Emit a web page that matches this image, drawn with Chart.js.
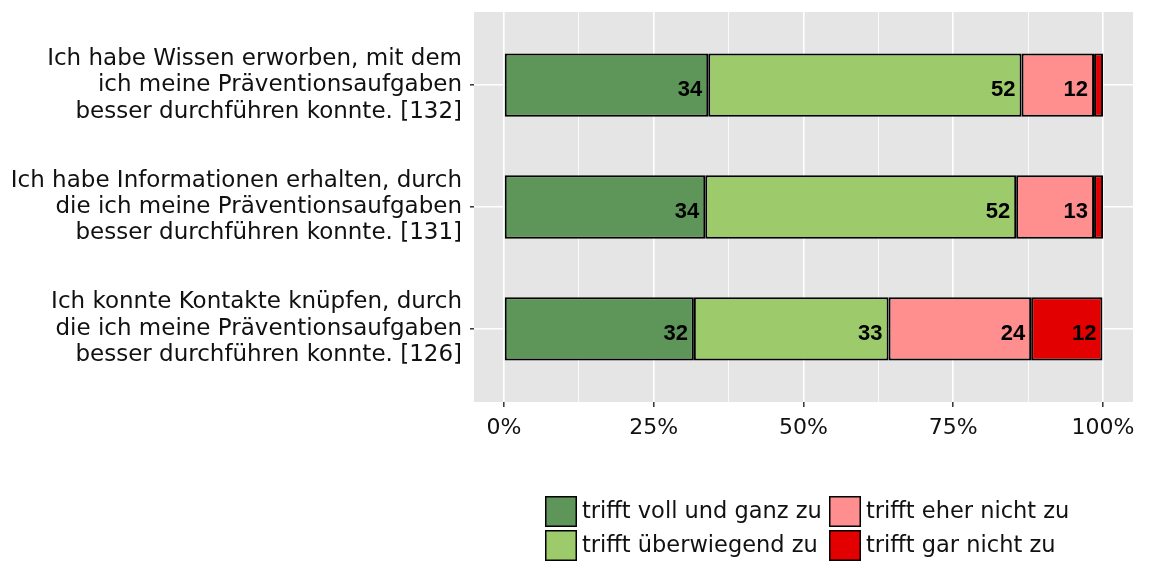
<!DOCTYPE html>
<html>
<head>
<meta charset="utf-8">
<script src="https://cdn.jsdelivr.net/npm/chart.js@4"></script>
<style>
  html, body { margin: 0; padding: 0; background: #fff; }
  #wrap { width: 1150px; height: 562px; }
</style>
</head>
<body>
<div id="wrap"><canvas id="chart" width="1150" height="562"></canvas></div>
<script>
// Questions (one line per array entry), top to bottom
const questions = [
    ["Ich habe Wissen erworben, mit dem", "ich meine Präventionsaufgaben", "besser durchführen konnte. [132]"],
    ["Ich habe Informationen erhalten, durch", "die ich meine Präventionsaufgaben", "besser durchführen konnte. [131]"],
    ["Ich konnte Kontakte knüpfen, durch", "die ich meine Präventionsaufgaben", "besser durchführen konnte. [126]"]
];

const answerLabels = ['trifft voll und ganz zu', 'trifft überwiegend zu', 'trifft eher nicht zu', 'trifft gar nicht zu'];
const answerColors = ['#5E9659', '#9DCB6C', '#FF8E8E', '#E20000'];

// Share of answers in percent, per question
const vollUndGanz = [34.1, 33.6, 31.7];
const ueberwiegend = [52.3, 51.9, 32.5];
const eherNicht = [12.1, 13.0, 23.8];
const garNicht = [1.5, 1.5, 11.9];

const xTicks = [0, 12.5, 25, 37.5, 50, 62.5, 75, 87.5, 100];

const textFont = "'DejaVu Sans', sans-serif";
const textColor = '#111';

const series = [vollUndGanz, ueberwiegend, eherNicht, garNicht];

const datasets = series.map((values, s) => ({
    label: answerLabels[s],
    data: values.map((v, i) => ({ x: v, y: i + 1 })),
    backgroundColor: answerColors[s],
    borderColor: '#000',
    borderWidth: 2,
    borderSkipped: false,
    barPercentage: 0.52,
    categoryPercentage: 1
}));

// gray panel behind the grid
const panelBackground = {
    id: 'panelBackground',
    beforeDraw(chart) {
        const { ctx, chartArea } = chart;
        ctx.save();
        ctx.fillStyle = '#E5E5E5';
        ctx.fillRect(chartArea.left, chartArea.top, chartArea.right - chartArea.left, chartArea.bottom - chartArea.top);
        ctx.restore();
    }
};

// rounded percentages at the right end of each segment
const segmentLabels = {
    id: 'segmentLabels',
    afterDatasetsDraw(chart) {
        const ctx = chart.ctx;
        ctx.save();
        ctx.font = "bold 22px 'Liberation Sans Narrow', 'Liberation Sans', sans-serif";
        ctx.fillStyle = '#000';
        ctx.textAlign = 'right';
        ctx.textBaseline = 'middle';
        chart.data.datasets.forEach((ds, d) => {
            const meta = chart.getDatasetMeta(d);
            meta.data.forEach((bar, i) => {
                const v = ds.data[i].x;
                if (v < 5) return;
                ctx.fillText(Math.round(v), bar.x - 6, bar.y + 5);
            });
        });
        ctx.restore();
    }
};

// two column legend, filled column by column
const boxLegend = {
    id: 'boxLegend',
    afterDraw(chart) {
        const ctx = chart.ctx;
        const colX = [545, 829];
        const rowY = [496, 530];
        ctx.save();
        ctx.font = '22.5px ' + textFont;
        ctx.textBaseline = 'middle';
        ctx.textAlign = 'left';
        chart.data.datasets.forEach((ds, d) => {
            const x = colX[Math.floor(d / 2)];
            const y = rowY[d % 2];
            ctx.fillStyle = ds.backgroundColor;
            ctx.fillRect(x, y, 32, 31);
            ctx.strokeStyle = '#000';
            ctx.lineWidth = 1.5;
            ctx.strokeRect(x + 0.75, y + 0.75, 30.5, 29.5);
            ctx.fillStyle = textColor;
            ctx.fillText(ds.label, x + 37, y + 16);
        });
        ctx.restore();
    }
};

const isMajor = v => v % 25 === 0;

new Chart(document.getElementById('chart'), {
    type: 'bar',
    data: { datasets },
    options: {
        indexAxis: 'y',
        responsive: false,
        animation: false,
        devicePixelRatio: 1,
        layout: { padding: { top: 12, right: 17, bottom: 0, left: 0 } },
        plugins: {
            legend: { display: false },
            tooltip: { enabled: false }
        },
        scales: {
            x: {
                type: 'linear',
                stacked: true,
                min: -5,
                max: 105,
                afterBuildTicks: scale => { scale.ticks = xTicks.map(v => ({ value: v })); },
                afterFit: scale => {
                    scale.height = 160;
                    scale.paddingLeft = 0;
                    scale.paddingRight = 0;
                },
                border: { display: false },
                grid: {
                    color: '#fff',
                    lineWidth: c => (c.tick && isMajor(c.tick.value) ? 1.6 : 0.8),
                    tickColor: c => (c.tick && isMajor(c.tick.value) ? '#333' : 'rgba(0,0,0,0)'),
                    tickWidth: 1.5,
                    tickLength: 5
                },
                ticks: {
                    autoSkip: false,
                    maxRotation: 0,
                    padding: 8,
                    color: textColor,
                    font: { family: textFont, size: 22 },
                    callback: v => (isMajor(v) ? v + '%' : '')
                }
            },
            y: {
                type: 'linear',
                stacked: true,
                reverse: true,
                offset: false,
                min: 0.4,
                max: 3.6,
                afterBuildTicks: scale => { scale.ticks = questions.map((q, i) => ({ value: i + 1 })); },
                afterFit: scale => {
                    scale.width = 474;
                    scale.paddingTop = 0;
                    scale.paddingBottom = 0;
                },
                border: { display: false },
                grid: {
                    offset: false,
                    color: '#fff',
                    lineWidth: 1.6,
                    tickColor: '#333',
                    tickWidth: 1.5,
                    tickLength: 4
                },
                ticks: {
                    autoSkip: false,
                    padding: 8,
                    color: textColor,
                    font: { family: textFont, size: 23, lineHeight: 1.15 },
                    callback: v => questions[v - 1]
                }
            }
        }
    },
    plugins: [panelBackground, segmentLabels, boxLegend]
});
</script>
</body>
</html>
